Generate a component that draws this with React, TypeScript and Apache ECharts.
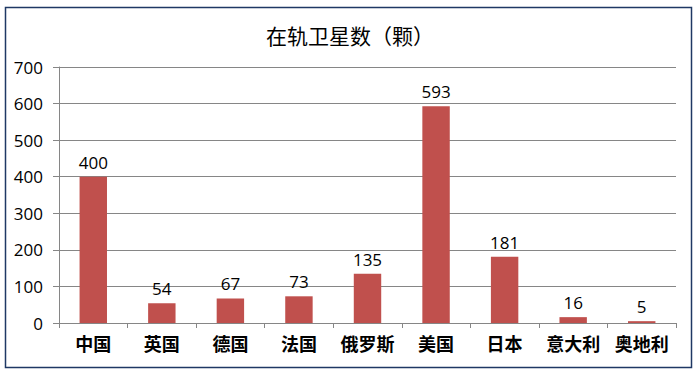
import React, { useEffect, useRef } from "react";
import * as echarts from "echarts";

const categories = ["中国", "英国", "德国", "法国", "俄罗斯", "美国", "日本", "意大利", "奥地利"];
const values = [400, 54, 67, 73, 135, 593, 181, 16, 5];
const titleText = "在轨卫星数（颗）";

export default function App() {
  const ref = useRef<HTMLDivElement>(null);
  useEffect(() => {
    document.body.style.margin = "0";
    const chart = echarts.init(ref.current!, null, { renderer: "svg" });
    chart.setOption({
      animation: false,
      backgroundColor: "#ffffff",
      title: {
        text: titleText,
        left: 345,
        textAlign: "center",
        top: 19,
        textStyle: { fontFamily: "Noto Sans CJK SC", fontSize: 21, fontWeight: "normal", color: "#000" },
      },
      graphic: [
        {
          type: "rect",
          shape: { x: 5.5, y: 7.5, width: 686, height: 360 },
          style: { fill: "none", stroke: "#1F3864", lineWidth: 1.5 },
          silent: true,
        },
      ],
      grid: { left: 59, right: 24, top: 67, bottom: 52 },
      xAxis: {
        type: "category",
        data: categories,
        axisLine: { lineStyle: { color: "#868686" } },
        axisTick: { show: true, length: 5, lineStyle: { color: "#868686" } },
        axisLabel: {
          interval: 0,
          fontFamily: "Noto Sans CJK SC",
          fontSize: 18,
          fontWeight: "bold",
          color: "#000",
          margin: 11,
        },
      },
      yAxis: {
        type: "value",
        min: 0,
        max: 700,
        interval: 100,
        axisLine: { show: true, lineStyle: { color: "#868686" } },
        axisTick: { show: true, length: 6, lineStyle: { color: "#868686" } },
        splitLine: { lineStyle: { color: "#868686" } },
        axisLabel: { fontFamily: "Open Sans", fontSize: 17, color: "#000", margin: 16 },
      },
      series: [
        {
          type: "bar",
          data: values,
          barWidth: "40%",
          itemStyle: { color: "#C0504D" },
          label: {
            show: true,
            position: "top",
            distance: 6,
            fontFamily: "Open Sans",
            fontSize: 17,
            color: "#000",
          },
        },
      ],
    });
    return () => chart.dispose();
  }, []);
  return <div ref={ref} style={{ width: 700, height: 375 }} />;
}
